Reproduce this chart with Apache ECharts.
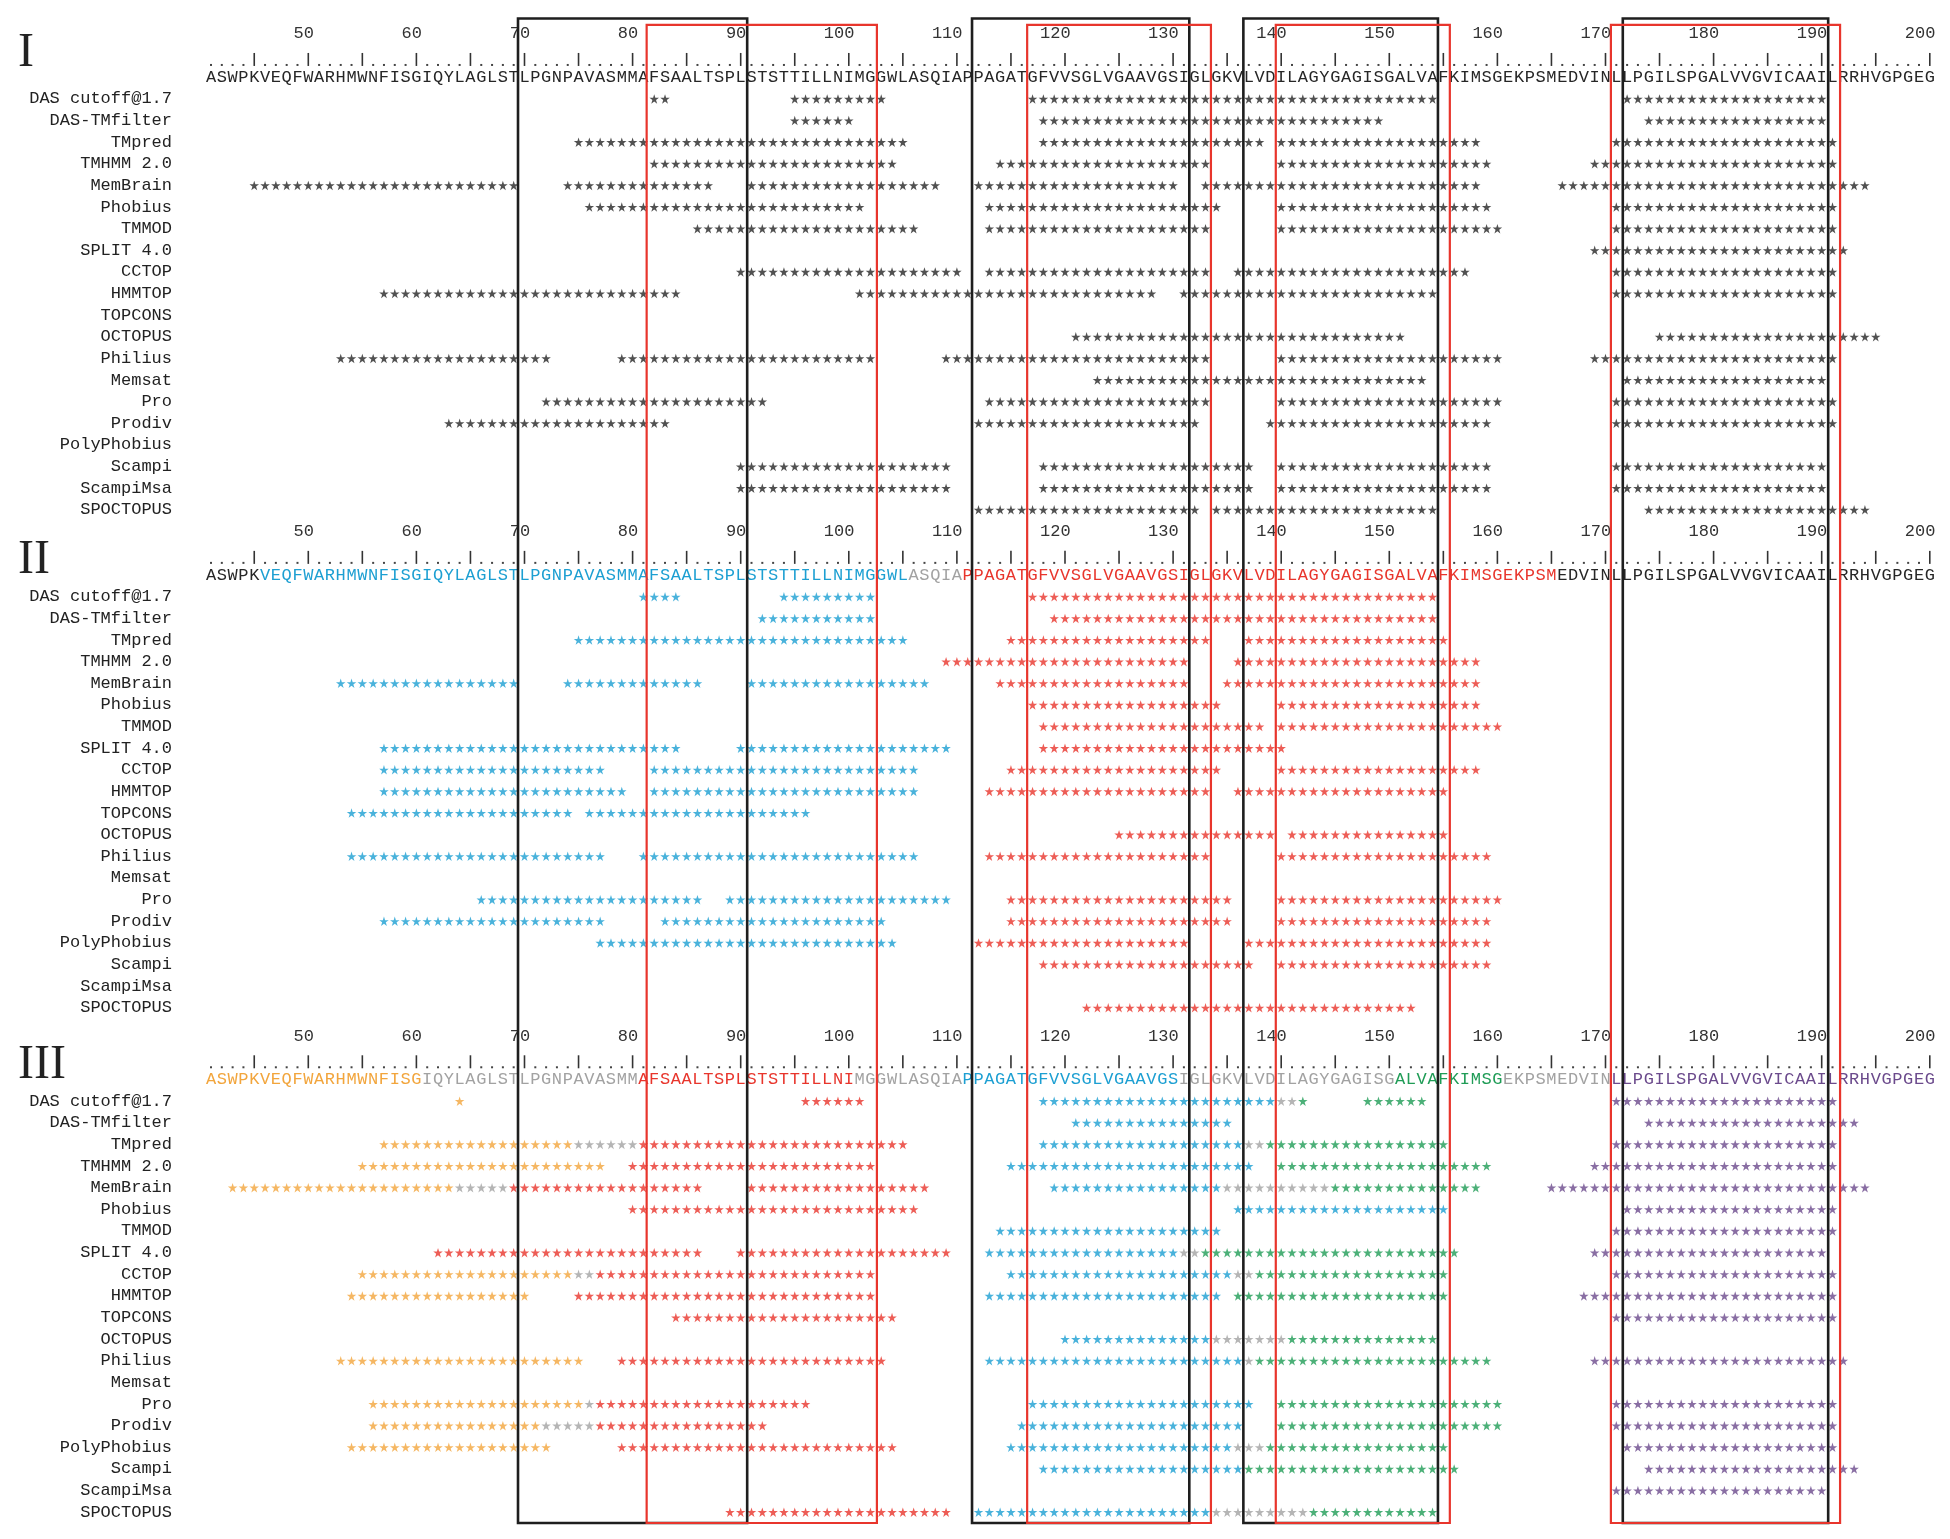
<!DOCTYPE html>
<html><head><meta charset="utf-8">
<script src="https://cdn.jsdelivr.net/npm/echarts@6/dist/echarts.min.js"></script>
<style>html,body{margin:0;padding:0;background:#fff}#c{width:1950px;height:1539px}</style>
</head><body><div id="c"></div>
<script>
// ---------------- DATA ----------------
const sequence = 'ASWPKVEQFWARHMWNFISGIQYLAGLSTLPGNPAVASMMAFSAALTSPLSTSTTILLNIMGGWLASQIAPPAGATGFVVSGLVGAAVGSIGLGKVLVDILAGYGAGISGALVAFKIMSGEKPSMEDVINLLPGILSPGALVVGVICAAILRRHVGPGEG';
const seqStart = 41;
const tickLabels = [50,60,70,80,90,100,110,120,130,140,150,160,170,180,190,200];
const methods = ['DAS cutoff@1.7','DAS-TMfilter','TMpred','TMHMM 2.0','MemBrain','Phobius','TMMOD','SPLIT 4.0','CCTOP','HMMTOP','TOPCONS','OCTOPUS','Philius','Memsat','Pro','Prodiv','PolyPhobius','Scampi','ScampiMsa','SPOCTOPUS'];
const panelNames = ['I','II','III'];

// sequence colouring per panel: [from, to, colour key]
const seqColorsI = [[41,200,'k']];
const seqColorsII = [[41,45,'k'],[46,105,'c'],[106,110,'g'],[111,165,'r'],[166,200,'k']];
const seqColorsIII = [[41,60,'o'],[61,80,'g'],[81,100,'r'],[101,110,'g'],[111,130,'c'],[131,150,'g'],[151,160,'n'],[161,170,'g'],[171,200,'p']];

// predicted TM stretches: [from, to, colour key] per method
const runsI = [
 [[82,83,'k'],[95,103,'k'],[117,154,'k'],[172,190,'k']],
 [[95,100,'k'],[118,149,'k'],[174,190,'k']],
 [[75,105,'k'],[118,138,'k'],[140,158,'k'],[171,191,'k']],
 [[82,104,'k'],[114,133,'k'],[140,159,'k'],[169,191,'k']],
 [[45,69,'k'],[74,87,'k'],[91,108,'k'],[112,130,'k'],[133,158,'k'],[166,194,'k']],
 [[76,101,'k'],[113,134,'k'],[140,159,'k'],[171,191,'k']],
 [[86,106,'k'],[113,133,'k'],[140,160,'k'],[171,191,'k']],
 [[169,192,'k']],
 [[90,110,'k'],[113,133,'k'],[136,157,'k'],[171,191,'k']],
 [[57,84,'k'],[101,128,'k'],[131,154,'k'],[171,191,'k']],
 [],
 [[121,151,'k'],[175,195,'k']],
 [[53,72,'k'],[79,102,'k'],[109,133,'k'],[140,160,'k'],[169,191,'k']],
 [[123,153,'k'],[172,190,'k']],
 [[72,92,'k'],[113,133,'k'],[140,160,'k'],[171,191,'k']],
 [[63,83,'k'],[112,132,'k'],[139,159,'k'],[171,191,'k']],
 [],
 [[90,109,'k'],[118,137,'k'],[140,159,'k'],[171,190,'k']],
 [[90,109,'k'],[118,137,'k'],[140,159,'k'],[171,190,'k']],
 [[112,132,'k'],[134,154,'k'],[174,194,'k']]
];
const runsII = [
 [[81,84,'c'],[94,102,'c'],[117,154,'r']],
 [[92,102,'c'],[119,154,'r']],
 [[75,105,'c'],[115,133,'r'],[137,155,'r']],
 [[109,131,'r'],[136,158,'r']],
 [[53,69,'c'],[74,86,'c'],[91,107,'c'],[114,131,'r'],[135,158,'r']],
 [[117,134,'r'],[140,158,'r']],
 [[118,138,'r'],[140,160,'r']],
 [[57,84,'c'],[90,109,'c'],[118,140,'r']],
 [[57,77,'c'],[82,106,'c'],[115,134,'r'],[140,158,'r']],
 [[57,79,'c'],[82,106,'c'],[113,133,'r'],[136,155,'r']],
 [[54,74,'c'],[76,96,'c']],
 [[125,139,'r'],[141,155,'r']],
 [[54,77,'c'],[81,106,'c'],[113,133,'r'],[140,159,'r']],
 [],
 [[66,86,'c'],[89,109,'c'],[115,135,'r'],[140,160,'r']],
 [[57,77,'c'],[83,103,'c'],[115,135,'r'],[140,159,'r']],
 [[77,104,'c'],[112,131,'r'],[137,159,'r']],
 [[118,137,'r'],[140,159,'r']],
 [],
 [[122,152,'r']]
];
const runsIII = [
 [[64,64,'o'],[96,101,'r'],[118,139,'c'],[140,141,'g'],[142,142,'n'],[148,153,'n'],[171,191,'p']],
 [[121,135,'c'],[174,193,'p']],
 [[57,74,'o'],[75,80,'g'],[81,105,'r'],[118,136,'c'],[137,138,'g'],[139,155,'n'],[171,191,'p']],
 [[55,77,'o'],[80,102,'r'],[115,137,'c'],[140,159,'n'],[169,191,'p']],
 [[43,63,'o'],[64,68,'g'],[69,86,'r'],[91,107,'r'],[119,134,'c'],[135,144,'g'],[145,158,'n'],[165,194,'p']],
 [[80,106,'r'],[136,155,'c'],[172,191,'p']],
 [[114,134,'c'],[171,191,'p']],
 [[62,86,'r'],[90,109,'r'],[113,130,'c'],[131,132,'g'],[133,156,'n'],[169,190,'p']],
 [[55,74,'o'],[75,76,'g'],[77,102,'r'],[115,135,'c'],[136,137,'g'],[138,155,'n'],[171,191,'p']],
 [[54,70,'o'],[75,102,'r'],[113,134,'c'],[136,155,'n'],[168,191,'p']],
 [[84,104,'r'],[171,191,'p']],
 [[120,133,'c'],[134,140,'g'],[141,154,'n']],
 [[53,75,'o'],[79,103,'r'],[113,136,'c'],[137,137,'g'],[138,159,'n'],[169,192,'p']],
 [],
 [[56,75,'o'],[76,76,'g'],[77,96,'r'],[117,137,'c'],[140,160,'n'],[171,191,'p']],
 [[56,71,'o'],[72,76,'g'],[77,92,'r'],[116,136,'c'],[140,160,'n'],[171,191,'p']],
 [[54,72,'o'],[79,104,'r'],[115,135,'c'],[136,138,'g'],[139,155,'n'],[172,191,'p']],
 [[118,136,'c'],[137,156,'n'],[174,193,'p']],
 [[171,190,'p']],
 [[89,109,'r'],[112,133,'c'],[134,142,'g'],[143,154,'n']]
];
// highlighted regions (residue boundaries)
const blackBoxes = [[69.4,90.6],[111.4,131.5],[136.5,154.5],[171.6,190.6]];
const redBoxes = [[81.3,102.6],[116.5,133.5],[139.5,155.6],[170.5,191.7]];

// ---------------- STYLE / LAYOUT ----------------
const palette = {k:'#262626', c:'#1c9fd2', r:'#e8352c', o:'#f2a53c', g:'#a2a2a2', n:'#1f9c56', p:'#6b4a8c'};
const panelOffset = [0, 23.02, 46.34];   // in row units
const LINE_TICK = 0, LINE_RULER = 1.2, LINE_SEQ = 2, LINE_ROW0 = 3;
const BOX_TOP_BLACK = -0.72, BOX_TOP_RED = -0.42, BOX_BOTTOM = 68.84;
const MONO = '"Liberation Mono","DejaVu Sans Mono",monospace';

const runsAll = [runsI, runsII, runsIII];
const seqColsAll = [seqColorsI, seqColorsII, seqColorsIII];

function colorAt(segs, p){ for (const s of segs) if (p>=s[0] && p<=s[1]) return s[2]; return 'k'; }

// stars grouped by colour
const starGroups = {};
runsAll.forEach((runs, pi) => {
  runs.forEach((list, mi) => {
    list.forEach(([s,e,c]) => {
      for (let p=s; p<=e; p++) {
        (starGroups[c] = starGroups[c] || []).push([p, panelOffset[pi] + LINE_ROW0 + mi]);
      }
    });
  });
});

// sequence letters
const seqItems = [];
panelOffset.forEach((off, pi) => {
  for (let i=0; i<sequence.length; i++) {
    const p = seqStart + i;
    seqItems.push({value:[p, off + LINE_SEQ], ch: sequence[i], col: palette[colorAt(seqColsAll[pi], p)]});
  }
});
// ruler
const rulerItems = [];
panelOffset.forEach(off => {
  for (let i=0; i<sequence.length; i++) {
    const p = seqStart + i;
    rulerItems.push({value:[p, off + LINE_RULER], bar: p % 5 === 0});
  }
});
// ticks
const tickItems = [];
panelOffset.forEach(off => tickLabels.forEach(t => tickItems.push({value:[t, off + LINE_TICK], txt: String(t)})));
// method labels
const labelItems = [];
panelOffset.forEach(off => methods.forEach((m, mi) => labelItems.push({value:[seqStart, off + LINE_ROW0 + mi], txt: m})));
// numerals
const numOffsets = [0.9, 1.3, 1.35];
const numItems = panelNames.map((n, i) => ({value:[seqStart, panelOffset[i] + numOffsets[i]], txt: n}));
// boxes
const boxItems = [];
blackBoxes.forEach(b => boxItems.push({value:[b[0], b[1], BOX_TOP_BLACK, BOX_BOTTOM], col:'#1e1e1e', w:2.6}));
redBoxes.forEach(b => boxItems.push({value:[b[0], b[1], BOX_TOP_RED, BOX_BOTTOM], col:'#e8352c', w:2.2}));

const STAR = 'path://M50 0L61.2 34.5L97.6 34.5L68.2 55.9L79.4 90.5L50 69.1L20.6 90.5L31.8 55.9L2.4 34.5L38.8 34.5Z';

const series = [];
Object.keys(starGroups).forEach(c => {
  series.push({type:'scatter', data: starGroups[c], symbol: STAR, symbolSize: 9.5, itemStyle:{color: palette[c]}, silent:true, z:3});
});
series.push({type:'custom', data: seqItems, z:4, silent:true,
  renderItem: (params, api) => {
    const it = seqItems[params.dataIndex];
    const pt = api.coord([api.value(0), api.value(1)]);
    return {type:'text', x: pt[0], y: pt[1], style:{text: it.ch, fill: it.col, font: '17px ' + MONO, align:'center', verticalAlign:'middle', textAlign:'center', textVerticalAlign:'middle'}};
  }});
series.push({type:'custom', data: rulerItems, z:4, silent:true,
  renderItem: (params, api) => {
    const it = rulerItems[params.dataIndex];
    const pt = api.coord([api.value(0), api.value(1)]);
    if (it.bar) return {type:'line', shape:{x1:pt[0], y1:pt[1]-7, x2:pt[0], y2:pt[1]+6}, style:{stroke:'#333', lineWidth:1.6}};
    return {type:'rect', shape:{x:pt[0]-1, y:pt[1]+4, width:2, height:2}, style:{fill:'#444'}};
  }});
series.push({type:'custom', data: tickItems, z:4, silent:true,
  renderItem: (params, api) => {
    const it = tickItems[params.dataIndex];
    const pt = api.coord([api.value(0), api.value(1)]);
    return {type:'text', x: pt[0] + 5.6, y: pt[1], style:{text: it.txt, fill:'#333', font:'17px ' + MONO, align:'right', verticalAlign:'middle', textAlign:'right', textVerticalAlign:'middle'}};
  }});
series.push({type:'custom', data: labelItems, z:4, silent:true,
  renderItem: (params, api) => {
    const it = labelItems[params.dataIndex];
    const pt = api.coord([api.value(0), api.value(1)]);
    return {type:'text', x: pt[0] - 39, y: pt[1], style:{text: it.txt, fill:'#222', font:'17px ' + MONO, align:'right', verticalAlign:'middle', textAlign:'right', textVerticalAlign:'middle'}};
  }});
series.push({type:'custom', data: numItems, z:4, silent:true,
  renderItem: (params, api) => {
    const it = numItems[params.dataIndex];
    const pt = api.coord([api.value(0), api.value(1)]);
    return {type:'text', x: 18, y: pt[1], style:{text: it.txt, fill:'#222', font:'48px "Liberation Serif","DejaVu Serif",serif', align:'left', verticalAlign:'middle', textAlign:'left', textVerticalAlign:'middle'}};
  }});
series.push({type:'custom', data: boxItems, z:6, silent:true,
  renderItem: (params, api) => {
    const it = boxItems[params.dataIndex];
    const a = api.coord([api.value(0), api.value(2)]);
    const b = api.coord([api.value(1), api.value(3)]);
    return {type:'rect', shape:{x:a[0], y:a[1], width:b[0]-a[0], height:b[1]-a[1]}, style:{fill:'none', stroke: it.col, lineWidth: it.w}};
  }});

const chart = echarts.init(document.getElementById('c'), null, {renderer:'canvas'});
chart.setOption({
  animation:false,
  backgroundColor:'#fff',
  grid:{left:205.6, right:14.8, top:1.555, bottom:12.54},
  xAxis:{type:'value', min:40.5, max:200.5, show:false},
  yAxis:{type:'value', min:-1.5, max:69, inverse:true, show:false},
  series
});
</script></body></html>
